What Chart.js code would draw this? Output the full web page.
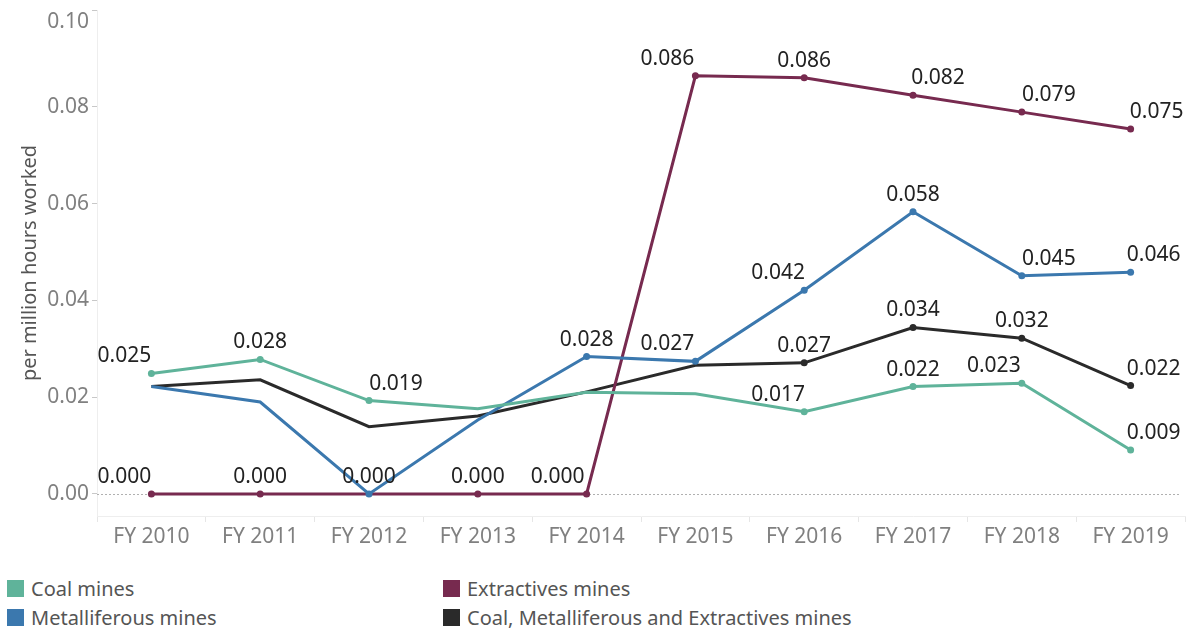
<!DOCTYPE html>
<html>
<head>
<meta charset="utf-8">
<script src="https://cdn.jsdelivr.net/npm/chart.js@4"></script>
<style>
  html, body { margin: 0; padding: 0; background: #fff; }
  #wrap { position: relative; width: 1190px; height: 633px; }
  #box { position: absolute; left: 0; top: 0; width: 1190px; height: 565px; }
  #legend { position: absolute; left: 0; top: 574px; width: 1190px; font-family: "Noto Sans", sans-serif; font-size: 20px; color: #555; }
  .item { position: absolute; display: flex; align-items: center; height: 28px; }
  .sw { width: 17px; height: 17px; margin-right: 7px; }
</style>
</head>
<body>
<div id="wrap">
  <div id="box"><canvas id="chart"></canvas></div>
  <div id="legend"></div>
</div>
<script>
const years = ["FY 2010", "FY 2011", "FY 2012", "FY 2013", "FY 2014", "FY 2015", "FY 2016", "FY 2017", "FY 2018", "FY 2019"];
const coal = [0.0249, 0.0278, 0.0193, 0.0176, 0.0210, 0.0207, 0.0170, 0.0222, 0.0229, 0.0091];
const metal = [0.0222, 0.0190, 0.0000, 0.0153, 0.0284, 0.0274, 0.0421, 0.0583, 0.0451, 0.0458];
const extract = [0, 0, 0, 0, 0, 0.0864, 0.0860, 0.0824, 0.0789, 0.0754];
const combined = [0.0222, 0.0236, 0.0139, 0.0161, 0.0211, 0.0266, 0.0271, 0.0344, 0.0322, 0.0224];
const yTicks = [0, 0.02, 0.04, 0.06, 0.08, 0.10];

// which points carry a marker + value label, and how far the label is nudged sideways
const coalLabels = {0: -27, 1: 0, 2: 27, 6: -26, 7: 0, 8: -28, 9: 23};
const metalLabels = {2: 0, 4: 0, 5: -28, 6: -26, 7: 0, 8: 27, 9: 23};
const extractLabels = {0: -27, 1: 0, 3: 0, 4: -29, 5: -28, 6: 0, 7: 25, 8: 27, 9: 26};
const combinedLabels = {6: 0, 7: 0, 8: 0, 9: 23};

const series = [
    {label: "Coal mines", data: coal, color: "#5fb39a", marks: coalLabels},
    {label: "Metalliferous mines", data: metal, color: "#3b78ae", marks: metalLabels},
    {label: "Extractives mines", data: extract, color: "#772a4f", marks: extractLabels},
    {label: "Coal, Metalliferous and Extractives mines", data: combined, color: "#2a2a2a", marks: combinedLabels}
];

const font = "'Noto Sans', sans-serif";

const zeroLine = {
    id: "zeroLine",
    beforeDatasetsDraw(chart) {
        const {ctx, chartArea, scales} = chart;
        const y = Math.round(scales.y.getPixelForValue(0)) + 0.5;
        ctx.save();
        ctx.strokeStyle = "#b0b0b0";
        ctx.lineWidth = 1;
        ctx.setLineDash([2, 2]);
        ctx.beginPath();
        ctx.moveTo(chartArea.left, y);
        ctx.lineTo(chartArea.right - 4, y);
        ctx.stroke();
        ctx.restore();
    },
    afterDraw(chart) {
        // top tick label sits a little below its tick, as in the original
        const {ctx, scales} = chart;
        ctx.save();
        ctx.font = "21px " + font;
        ctx.fillStyle = "#808080";
        ctx.textAlign = "right";
        ctx.textBaseline = "middle";
        ctx.fillText("0.10", scales.y.right - 8, scales.y.getPixelForValue(0.10) + 12);
        ctx.restore();
    }
};

const valueLabels = {
    id: "valueLabels",
    afterDatasetsDraw(chart) {
        const ctx = chart.ctx;
        ctx.save();
        ctx.font = "21px " + font;
        ctx.fillStyle = "#222";
        ctx.textAlign = "center";
        ctx.textBaseline = "alphabetic";
        chart.data.datasets.forEach((ds, i) => {
            const meta = chart.getDatasetMeta(i);
            Object.keys(ds.marks).forEach(k => {
                const pt = meta.data[k];
                ctx.fillText(ds.data[k].toFixed(3), pt.x + ds.marks[k], pt.y - 11);
            });
        });
        ctx.restore();
    }
};

new Chart(document.getElementById("chart"), {
    type: "line",
    data: {
        labels: years,
        datasets: series.map(s => ({
            label: s.label,
            data: s.data,
            marks: s.marks,
            borderColor: s.color,
            backgroundColor: s.color,
            borderWidth: 3,
            tension: 0,
            pointRadius: s.data.map((v, i) => (i in s.marks ? 3.5 : 0)),
            pointHoverRadius: 0,
            pointBorderWidth: 0
        }))
    },
    options: {
        responsive: true,
        maintainAspectRatio: false,
        animation: false,
        layout: {padding: {top: 10, right: 5, left: 0, bottom: 0}},
        plugins: {legend: {display: false}, tooltip: {enabled: false}},
        scales: {
            x: {
                offset: true,
                grid: {offset: true, drawOnChartArea: false, tickLength: 6, tickColor: "#e6e6e6"},
                border: {color: "#eeeeee"},
                ticks: {color: "#808080", font: {family: font, size: 21}, padding: 2, maxRotation: 0},
                afterFit(scale) { scale.height = 49; scale.paddingLeft = 0; scale.paddingRight = 0; }
            },
            y: {
                min: -0.00455,
                max: 0.10,
                afterBuildTicks(scale) { scale.ticks = yTicks.map(v => ({value: v})); },
                grid: {drawOnChartArea: false, tickLength: 5, tickColor: "#c8c8c8"},
                border: {color: "#eeeeee"},
                ticks: {color: "#808080", font: {family: font, size: 21}, padding: 3,
                    callback: v => (v >= 0.099 ? "" : v.toFixed(2))},
                title: {display: true, text: "per million hours worked", color: "#555",
                    font: {family: font, size: 20}, padding: {top: 18, bottom: 0}},
                afterFit(scale) { scale.width = 97; scale.paddingTop = 0; scale.paddingBottom = 0; }
            }
        }
    },
    plugins: [zeroLine, valueLabels]
});

// two-column legend built from the same series list
const legend = document.getElementById("legend");
const spots = [[7, 0], [7, 29], [443, 0], [443, 29]];
series.forEach((s, i) => {
    const it = document.createElement("div");
    it.className = "item";
    it.style.left = spots[i][0] + "px";
    it.style.top = spots[i][1] + "px";
    it.innerHTML = '<span class="sw" style="background:' + s.color + '"></span><span>' + s.label + '</span>';
    legend.appendChild(it);
});
</script>
</body>
</html>
